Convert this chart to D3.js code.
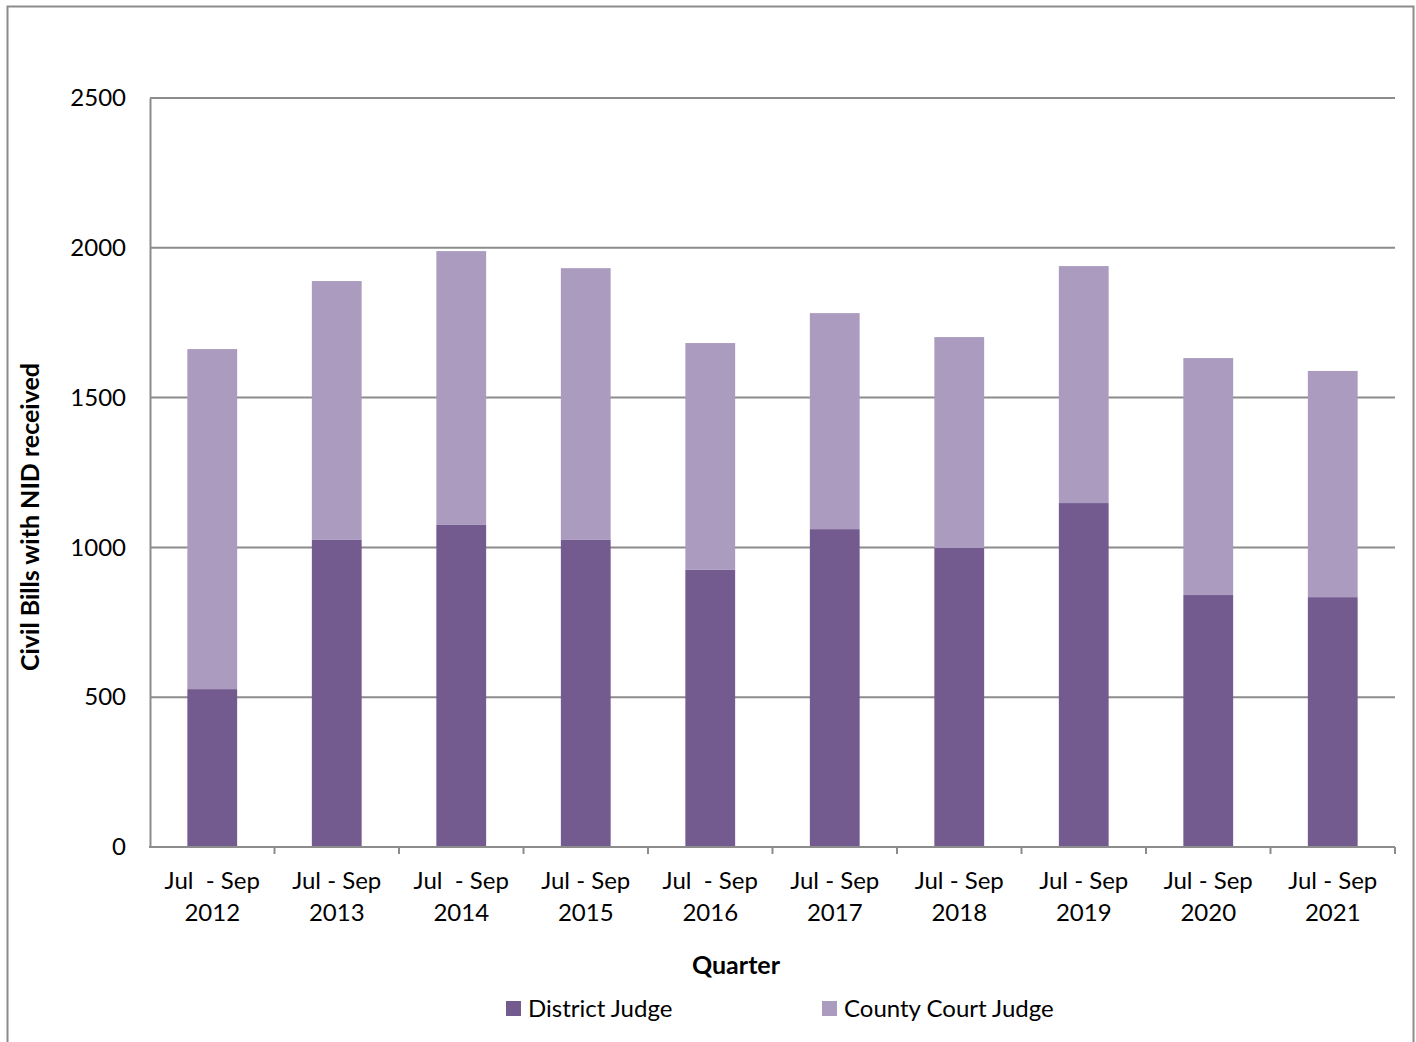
<!DOCTYPE html>
<html>
<head>
<meta charset="utf-8">
<script src="https://cdn.jsdelivr.net/npm/d3@7/dist/d3.min.js"></script>
<style>
  html, body { margin: 0; padding: 0; background: #fff; }
  svg { display: block; font-family: Lato, "Open Sans", sans-serif; }
</style>
</head>
<body>
<svg id="chart" width="1416" height="1042"></svg>
<script>
// Quarterly civil bills with notice of intention to defend, by judge type
const quarterLines1 = ["Jul  - Sep", "Jul - Sep", "Jul  - Sep", "Jul - Sep", "Jul  - Sep", "Jul - Sep", "Jul - Sep", "Jul - Sep", "Jul - Sep", "Jul - Sep"];
const years = ["2012", "2013", "2014", "2015", "2016", "2017", "2018", "2019", "2020", "2021"];
const districtJudge = [527, 1025, 1075, 1025, 925, 1061, 998, 1148, 841, 834];
const countyCourtJudge = [1135, 864, 914, 907, 757, 721, 704, 791, 791, 755];
const yTicks = [0, 500, 1000, 1500, 2000, 2500];
const seriesNames = ["District Judge", "County Court Judge"];
const seriesColors = ["#735a8f", "#aa9bbf"];

const svg = d3.select("#chart");
const margin = { left: 150, right: 1395, top: 98, bottom: 847 };

// outer frame
svg.append("rect")
  .attr("x", 7.5).attr("y", 6.5)
  .attr("width", 1406).attr("height", 1045)
  .attr("fill", "none").attr("stroke", "#8c8c8c").attr("stroke-width", 2);

const x = d3.scaleBand().domain(years).range([margin.left, margin.right]).paddingInner(0.6).paddingOuter(0.3);
const y = d3.scaleLinear().domain([0, 2500]).range([margin.bottom, margin.top]);

// gridlines
svg.append("g")
  .selectAll("line").data(yTicks.filter(d => d > 0)).join("line")
  .attr("x1", margin.left).attr("x2", margin.right)
  .attr("y1", d => y(d)).attr("y2", d => y(d))
  .attr("stroke", "#8c8c8c").attr("stroke-width", 2);

// stacked bars
const rows = years.map((yr, i) => ({ year: yr, district: districtJudge[i], county: countyCourtJudge[i] }));
const stack = d3.stack().keys(["district", "county"])(rows);
svg.append("g").selectAll("g").data(stack).join("g")
  .attr("fill", (d, i) => seriesColors[i])
  .selectAll("rect").data(d => d).join("rect")
  .attr("x", d => x(d.data.year))
  .attr("width", x.bandwidth())
  .attr("y", d => y(d[1]))
  .attr("height", d => y(d[0]) - y(d[1]));

// y axis
const yAxis = svg.append("g")
  .attr("transform", `translate(${margin.left},0)`)
  .call(d3.axisLeft(y).tickValues(yTicks).tickFormat(d3.format("d")).tickSize(0).tickPadding(24));
yAxis.select(".domain").attr("stroke", "#8c8c8c").attr("stroke-width", 2);
yAxis.selectAll("text").attr("font-size", 24).attr("fill", "#000").attr("font-family", "Lato, sans-serif");

// x axis baseline and separators between categories
const xAxisG = svg.append("g");
xAxisG.append("line")
  .attr("x1", margin.left - 1).attr("x2", margin.right)
  .attr("y1", margin.bottom).attr("y2", margin.bottom)
  .attr("stroke", "#8c8c8c").attr("stroke-width", 2);
const sepTicks = d3.range(1, years.length + 1).map(i => margin.left + i * (margin.right - margin.left) / years.length);
xAxisG.selectAll("line.sep").data(sepTicks).join("line")
  .attr("class", "sep")
  .attr("x1", d => d).attr("x2", d => d)
  .attr("y1", margin.bottom).attr("y2", margin.bottom + 7)
  .attr("stroke", "#8c8c8c").attr("stroke-width", 2);

// category labels (two lines)
const catLabels = svg.append("g").selectAll("text").data(years).join("text")
  .attr("text-anchor", "middle")
  .attr("font-size", 24)
  .attr("fill", "#000")
  .attr("x", d => x(d) + x.bandwidth() / 2);
catLabels.append("tspan").attr("x", d => x(d) + x.bandwidth() / 2).attr("y", 889)
  .style("white-space", "pre")
  .text((d, i) => quarterLines1[i]);
catLabels.append("tspan").attr("x", d => x(d) + x.bandwidth() / 2).attr("y", 921).text(d => d);

// axis titles
svg.append("text")
  .attr("x", 736).attr("y", 974)
  .attr("text-anchor", "middle").attr("font-size", 25).attr("font-weight", "bold")
  .text("Quarter");
svg.append("text")
  .attr("transform", `translate(39, 517) rotate(-90)`)
  .attr("text-anchor", "middle").attr("font-size", 25).attr("font-weight", "bold")
  .text("Civil Bills with NID received");

// legend
const legendX = [506, 822];
const legend = svg.append("g").selectAll("g").data(seriesNames).join("g")
  .attr("transform", (d, i) => `translate(${legendX[i]}, 1001)`);
legend.append("rect").attr("width", 15).attr("height", 15).attr("fill", (d, i) => seriesColors[i]);
legend.append("text").attr("x", 22).attr("y", 16).attr("font-size", 24).attr("fill", "#000").text(d => d);
</script>
</body>
</html>
